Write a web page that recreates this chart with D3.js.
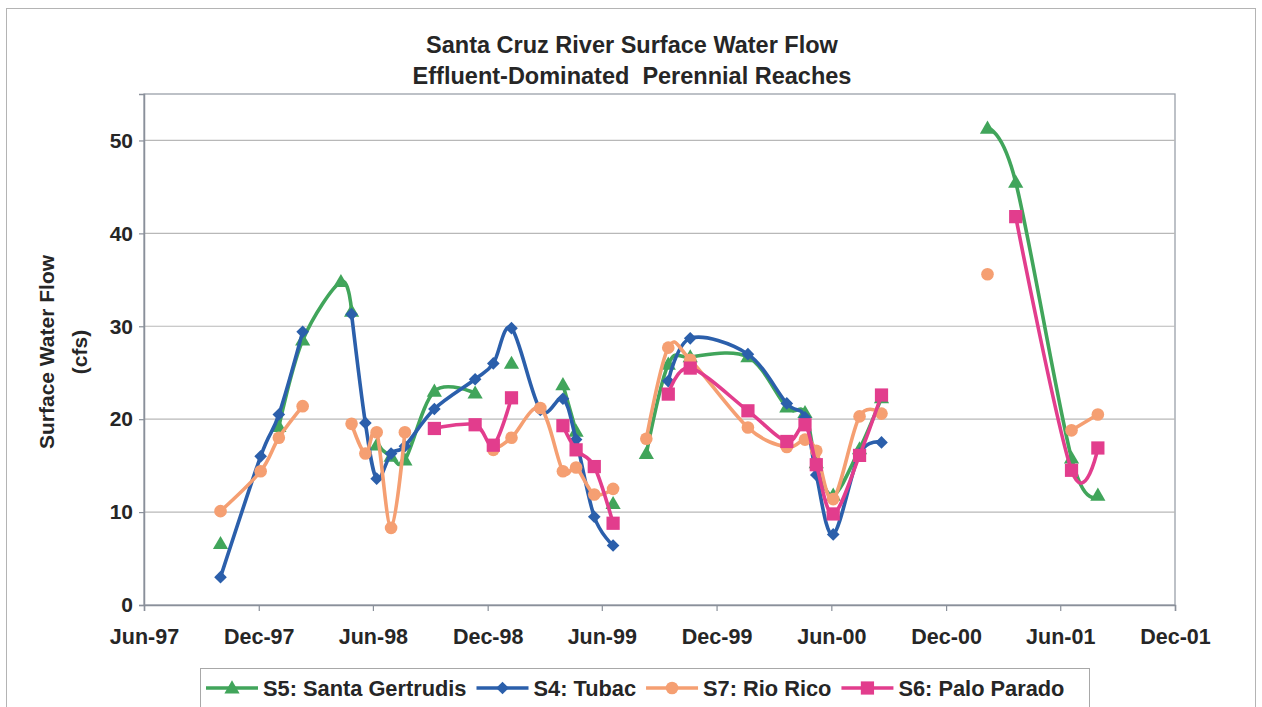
<!DOCTYPE html>
<html>
<head>
<meta charset="utf-8">
<script src="https://cdn.jsdelivr.net/npm/d3@7"></script>
<style>
  html, body { margin: 0; padding: 0; background: #ffffff; }
  svg { display: block; }
  text { font-family: "Liberation Sans", Arial, sans-serif; font-weight: bold; fill: #262626; }
</style>
</head>
<body>
<svg id="chart" width="1262" height="707"></svg>
<script>
// ---------------- DATA ----------------
// sampling dates (rows with no data at any site leave gaps in the lines)
const sampleDates = ["1997-10-01","1997-12-04","1998-01-02","1998-02-09","1998-04-11","1998-04-28","1998-05-20","1998-06-07","1998-06-30","1998-07-22","1998-09-07","1998-11-11","1998-12-10","1999-01-08","1999-02-23","1999-03-31","1999-04-21","1999-05-20","1999-06-19","1999-07-15","1999-08-11","1999-09-15","1999-10-20","2000-01-20","2000-03-22","2000-04-20","2000-05-08","2000-06-04","2000-07-16","2000-08-20","2000-11-01","2001-02-05","2001-03-22","2001-06-19","2001-07-31"];

const s5SantaGertrudis = [6.6, null, 19.2, 28.5, 34.8, 31.6, null, 17.2, 16.0, 15.6, 23.0, 22.8, null, 26.0, null, 23.7, 18.7, null, 10.9, null, 16.3, 25.9, 26.7, 26.7, 21.3, 20.7, 15.3, 11.8, 16.8, 22.3, null, 51.3, 45.5, 15.8, 11.8];
const s4Tubac         = [3.0, 16.0, 20.5, 29.4, null, 31.3, 19.6, 13.6, 16.3, 17.1, 21.1, 24.3, 26.0, 29.8, 21.0, 22.2, 17.8, 9.5, 6.4, null, null, 24.1, 28.7, 27.0, 21.7, 20.2, 14.0, 7.6, 16.3, 17.5, null, null, null, null, null];
const s7RioRico       = [10.1, 14.4, 18.0, 21.4, null, 19.5, 16.3, 18.6, 8.3, 18.6, null, null, 16.7, 18.0, 21.2, 14.4, 14.8, 11.9, 12.5, null, 17.9, 27.7, 26.4, 19.1, 17.0, 17.8, 16.6, 11.4, 20.3, 20.6, null, 35.6, null, 18.8, 20.5];
const s6PaloParado    = [null, null, null, null, null, null, null, null, null, null, 19.0, 19.4, 17.2, 22.3, null, 19.3, 16.7, 14.9, 8.8, null, null, 22.7, 25.5, 20.9, 17.6, 19.4, 15.1, 9.8, 16.1, 22.6, null, null, 41.8, 14.5, 16.9];

const seriesNames = ["S5: Santa Gertrudis", "S4: Tubac", "S7: Rio Rico", "S6: Palo Parado"];
const seriesColors = ["#41a55b", "#2b5fab", "#f59f72", "#e23d8d"];
const seriesMarkers = ["triangle", "diamond", "circle", "square"];

const xTickDates = ["1997-06-01","1997-12-01","1998-06-01","1998-12-01","1999-06-01","1999-12-01","2000-06-01","2000-12-01","2001-06-01","2001-12-01"];
const xTickLabels = ["Jun-97","Dec-97","Jun-98","Dec-98","Jun-99","Dec-99","Jun-00","Dec-00","Jun-01","Dec-01"];
const yTicks = [0, 10, 20, 30, 40, 50];

const titleLines = ["Santa Cruz River Surface Water Flow", "Effluent-Dominated  Perennial Reaches"];
const yTitleLines = ["Surface Water Flow", "(cfs)"];

// ---------------- CHART ----------------
const parse = d3.timeParse("%Y-%m-%d");
const svg = d3.select("#chart");
const plot = { left: 144, top: 94, right: 1175, bottom: 605 };

const x = d3.scaleTime()
  .domain([parse(xTickDates[0]), parse(xTickDates[xTickDates.length - 1])])
  .range([plot.left, plot.right]);
const y = d3.scaleLinear().domain([0, 55]).range([plot.bottom, plot.top]);

// outer chart border
svg.append("rect").attr("x", 6.5).attr("y", 8.5).attr("width", 1249).attr("height", 720)
  .attr("fill", "#ffffff").attr("stroke", "#b4b4b4").attr("stroke-width", 1);

// plot area
svg.append("rect").attr("x", plot.left).attr("y", plot.top)
  .attr("width", plot.right - plot.left).attr("height", plot.bottom - plot.top)
  .attr("fill", "#ffffff").attr("stroke", "#9aa0aa").attr("stroke-width", 1.3);

// gridlines
svg.append("g").selectAll("line").data(yTicks.filter(v => v > 0)).join("line")
  .attr("x1", plot.left).attr("x2", plot.right)
  .attr("y1", d => y(d)).attr("y2", d => y(d))
  .attr("stroke", "#b8b8b8").attr("stroke-width", 1.2);

// y axis
const yAxis = svg.append("g").attr("transform", `translate(${plot.left},0)`)
  .call(d3.axisLeft(y).tickValues(yTicks).tickFormat(d3.format("d")).tickSize(5).tickPadding(6));
yAxis.select(".domain").attr("stroke", "#8a909a").attr("stroke-width", 1.5);
yAxis.selectAll(".tick line").attr("stroke", "#8a909a").attr("stroke-width", 1.2);
yAxis.selectAll("text").attr("font-size", 21).attr("fill", "#262626")
  .style("font-family", "'Liberation Sans', Arial, sans-serif").style("font-weight", "bold");

// x axis
const xAxis = svg.append("g").attr("transform", `translate(0,${plot.bottom})`)
  .call(d3.axisBottom(x).tickValues(xTickDates.map(parse))
    .tickFormat((d, i) => xTickLabels[i]).tickSize(6).tickPadding(18));
xAxis.select(".domain").attr("stroke", "#8a909a").attr("stroke-width", 1.5);
xAxis.selectAll(".tick line").attr("stroke", "#8a909a").attr("stroke-width", 1.2);
xAxis.selectAll("text").attr("font-size", 21.5).attr("fill", "#262626")
  .style("font-family", "'Liberation Sans', Arial, sans-serif").style("font-weight", "bold");

// titles
svg.append("g").selectAll("text").data(titleLines).join("text")
  .attr("x", 632).attr("y", (d, i) => 53 + i * 31)
  .attr("text-anchor", "middle").attr("font-size", 23.5)
  .style("white-space", "pre")
  .text(d => d);

svg.append("g").selectAll("text").data(yTitleLines).join("text")
  .attr("transform", (d, i) => `translate(${54 + i * 33},352) rotate(-90)`)
  .attr("text-anchor", "middle").attr("font-size", 21)
  .text(d => d);

// series
const seriesValues = [s5SantaGertrudis, s4Tubac, s7RioRico, s6PaloParado];
const symbolFor = {
  triangle: d3.symbol().type(d3.symbolTriangle).size(100),
  diamond: d3.symbol().type(d3.symbolSquare).size(80),
  circle: d3.symbol().type(d3.symbolCircle).size(125),
  square: d3.symbol().type(d3.symbolSquare).size(175)
};
const rotFor = { triangle: 0, diamond: 45, circle: 0, square: 0 };

const line = d3.line()
  .defined(d => d.v != null)
  .x(d => x(d.date)).y(d => y(d.v))
  .curve(d3.curveCardinal.tension(0));

seriesValues.forEach((vals, si) => {
  const pts = sampleDates.map((ds, i) => ({ date: parse(ds), v: vals[i] }));
  const g = svg.append("g");
  g.append("path").datum(pts).attr("d", line)
    .attr("fill", "none").attr("stroke", seriesColors[si])
    .attr("stroke-width", 3.6).attr("stroke-linejoin", "round").attr("stroke-linecap", "round");
  const m = seriesMarkers[si];
  g.selectAll("path.mk").data(pts.filter(p => p.v != null)).join("path")
    .attr("class", "mk")
    .attr("d", symbolFor[m])
    .attr("transform", p => `translate(${x(p.date)},${y(p.v) + (m === "triangle" ? 1 : 0)}) rotate(${rotFor[m]})`)
    .attr("fill", seriesColors[si]);
});

// legend
const leg = svg.append("g");
leg.append("rect").attr("x", 200.5).attr("y", 668.5).attr("width", 889).attr("height", 60)
  .attr("fill", "#ffffff").attr("stroke", "#a8a8a8").attr("stroke-width", 1);
let cx = 206;
const ly = 688;
seriesNames.forEach((name, si) => {
  const m = seriesMarkers[si];
  leg.append("line").attr("x1", cx).attr("x2", cx + 52).attr("y1", ly).attr("y2", ly)
    .attr("stroke", seriesColors[si]).attr("stroke-width", 3.6);
  leg.append("path").attr("d", symbolFor[m])
    .attr("transform", `translate(${cx + 26},${ly + (m === "triangle" ? 1 : 0)}) rotate(${rotFor[m]})`)
    .attr("fill", seriesColors[si]);
  const t = leg.append("text").attr("x", cx + 57).attr("y", ly + 8)
    .attr("font-size", 21.8).text(name);
  const w = t.node().getComputedTextLength();
  cx = cx + 57 + w + 10;
});
</script>
</body>
</html>
